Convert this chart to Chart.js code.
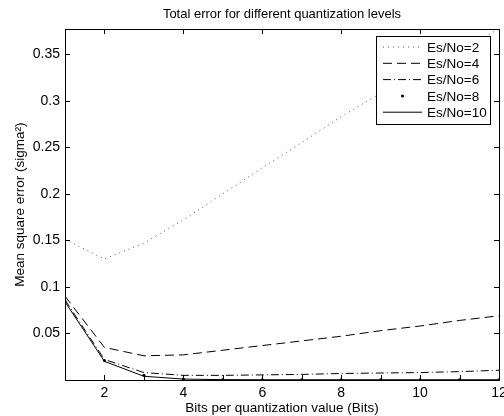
<!DOCTYPE html>
<html>
<head>
<meta charset="utf-8">
<script src="https://cdn.jsdelivr.net/npm/chart.js@4/dist/chart.umd.min.js"></script>
<style>
  html, body { margin: 0; padding: 0; background: #fff; }
  canvas { display: block; }
</style>
</head>
<body>
<canvas id="errChart" width="504" height="416"></canvas>
<script>
// data
const bits = [1, 2, 3, 4, 5, 6, 7, 8, 9, 10, 11, 12];
const es2 = [0.151, 0.130, 0.147, 0.172, 0.200, 0.228, 0.255, 0.283, 0.308, 0.332, 0.355, 0.377];
const es4 = [0.090, 0.035, 0.026, 0.027, 0.032, 0.037, 0.042, 0.047, 0.053, 0.058, 0.064, 0.069];
const es6 = [0.086, 0.022, 0.008, 0.005, 0.005, 0.0055, 0.006, 0.007, 0.0075, 0.008, 0.009, 0.0105];
const es8 = [0.085, 0.021, 0.005, 0.001, 0.0005, 0.0004, 0.0004, 0.0003, 0.0003, 0.0003, 0.0003, 0.0003];
const es10 = [0.084, 0.020, 0.004, 0.001, 0.0004, 0.0003, 0.0003, 0.0003, 0.0003, 0.0003, 0.0003, 0.0003];
const seriesNames = ["Es/No=2", "Es/No=4", "Es/No=6", "Es/No=8", "Es/No=10"];
const xTicks = [1, 2, 3, 4, 5, 6, 7, 8, 9, 10, 11, 12];
const yTicks = [0.05, 0.1, 0.15, 0.2, 0.25, 0.3, 0.35];

const FONT = "'Liberation Sans', Arial, Helvetica, sans-serif";

function pts(ys) {
  return bits.map((b, i) => ({ x: b, y: ys[i] }));
}

// inward tick marks on all four sides, plus the box
const boxTicks = {
  id: "boxTicks",
  afterDraw(chart) {
    const ctx = chart.ctx;
    const a = chart.chartArea;
    const xs = chart.scales.x, ys = chart.scales.y;
    const len = 5;
    ctx.save();
    ctx.strokeStyle = "#000";
    ctx.lineWidth = 1;
    ctx.beginPath();
    xTicks.forEach(v => {
      const px = Math.round(xs.getPixelForValue(v)) + 0.5;
      ctx.moveTo(px, a.bottom); ctx.lineTo(px, a.bottom - len);
      if (v % 2 === 0) { ctx.moveTo(px, a.top); ctx.lineTo(px, a.top + len); }
    });
    yTicks.forEach(v => {
      const py = Math.round(ys.getPixelForValue(v)) + 0.5;
      ctx.moveTo(a.left, py); ctx.lineTo(a.left + len, py);
      ctx.moveTo(a.right, py); ctx.lineTo(a.right - len, py);
    });
    ctx.stroke();
    ctx.strokeRect(Math.round(a.left) + 0.5, Math.round(a.top) + 0.5,
                   Math.round(a.right - a.left), Math.round(a.bottom - a.top));
    ctx.restore();
  }
};

// boxed legend in the upper right of the axes
const boxLegend = {
  id: "boxLegend",
  afterDraw(chart) {
    const ctx = chart.ctx;
    const a = chart.chartArea;
    const w = 114, h = 88;
    const x0 = Math.round(a.right) - 9 - w, y0 = Math.round(a.top) + 7;
    ctx.save();
    ctx.fillStyle = "#fff";
    ctx.fillRect(x0, y0, w, h);
    ctx.strokeStyle = "#000";
    ctx.lineWidth = 1;
    ctx.strokeRect(x0 + 0.5, y0 + 0.5, w, h);
    ctx.font = "13.5px " + FONT;
    ctx.textBaseline = "middle";
    ctx.textAlign = "left";
    chart.data.datasets.forEach((ds, i) => {
      const cy = y0 + 11 + i * 16.3;
      const lx0 = x0 + 7, lx1 = x0 + 46;
      ctx.strokeStyle = ds.borderColor;
      ctx.fillStyle = ds.borderColor;
      if (ds.showLine === false) {
        ctx.beginPath();
        ctx.arc((lx0 + lx1) / 2, cy, 1.5, 0, Math.PI * 2);
        ctx.fill();
      } else {
        ctx.lineWidth = ds.borderWidth;
        ctx.setLineDash(ds.borderDash || []);
        ctx.beginPath();
        ctx.moveTo(lx0, cy); ctx.lineTo(lx1, cy);
        ctx.stroke();
        ctx.setLineDash([]);
      }
      ctx.fillStyle = "#000";
      ctx.fillText(seriesNames[i], x0 + 51, cy + 1);
    });
    ctx.restore();
  }
};

new Chart(document.getElementById("errChart"), {
  type: "line",
  data: {
    datasets: [
      { label: seriesNames[0], data: pts(es2), borderColor: "#555", borderWidth: 1, borderDash: [1, 4], pointRadius: 0, tension: 0 },
      { label: seriesNames[1], data: pts(es4), borderColor: "#000", borderWidth: 1, borderDash: [9, 5], pointRadius: 0, tension: 0 },
      { label: seriesNames[2], data: pts(es6), borderColor: "#000", borderWidth: 1, borderDash: [8, 3, 1, 3], pointRadius: 0, tension: 0 },
      { label: seriesNames[3], data: pts(es8), borderColor: "#000", backgroundColor: "#000", showLine: false, pointRadius: 1.5, pointBorderWidth: 0 },
      { label: seriesNames[4], data: pts(es10), borderColor: "#000", borderWidth: 1, pointRadius: 0, tension: 0 }
    ]
  },
  options: {
    responsive: false,
    animation: false,
    layout: { padding: { left: 0, right: 5, top: 0, bottom: 0 } },
    plugins: {
      legend: { display: false },
      tooltip: { enabled: false },
      title: {
        display: true,
        text: "Total error for different quantization levels",
        color: "#000",
        fullSize: false,
        font: { family: FONT, size: 13, weight: "normal" },
        padding: { top: 7, bottom: 6.5 }
      }
    },
    scales: {
      x: {
        type: "linear",
        min: 1,
        max: 12,
        afterBuildTicks: s => { s.ticks = xTicks.map(v => ({ value: v })); },
        afterFit: s => { s.height = 36; s.paddingLeft = 0; s.paddingRight = 0; },
        grid: { display: false, drawTicks: false },
        border: { display: false },
        ticks: {
          color: "#000",
          padding: 5,
          maxRotation: 0,
          autoSkip: false,
          font: { family: FONT, size: 14 },
          callback: v => (v % 2 === 0 ? String(v) : "")
        },
        title: {
          display: true,
          text: "Bits per quantization value (Bits)",
          color: "#000",
          font: { family: FONT, size: 13.5 },
          padding: { top: 0, bottom: 0 }
        }
      },
      y: {
        min: 0,
        max: 0.377,
        afterBuildTicks: s => { s.ticks = yTicks.map(v => ({ value: v })); },
        afterFit: s => { s.width = 65; s.paddingTop = 0; s.paddingBottom = 0; },
        grid: { display: false, drawTicks: false },
        border: { display: false },
        ticks: {
          color: "#000",
          padding: 5,
          autoSkip: false,
          font: { family: FONT, size: 14 },
          callback: v => String(+v.toFixed(2))
        },
        title: {
          display: true,
          text: "Mean square error (sigma²)",
          color: "#000",
          font: { family: FONT, size: 13.5 },
          padding: { top: 12, bottom: 0 }
        }
      }
    }
  },
  plugins: [boxTicks, boxLegend]
});
</script>
</body>
</html>
